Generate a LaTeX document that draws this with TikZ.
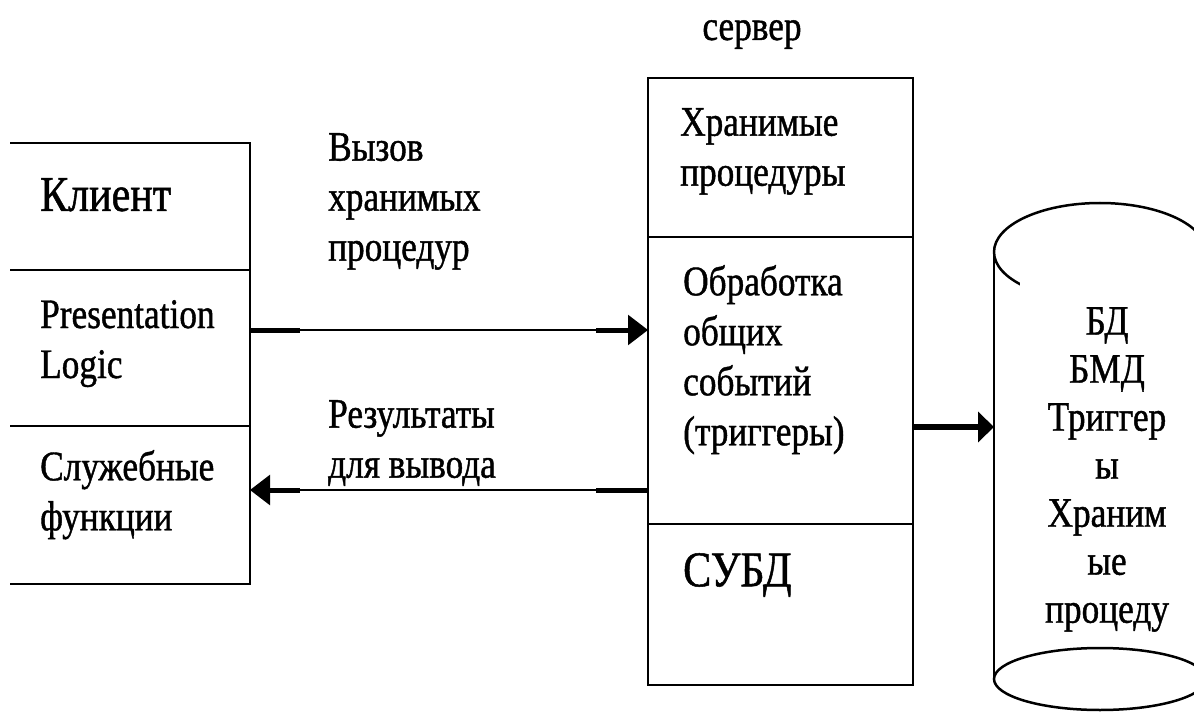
\documentclass[tikz,border=0pt]{standalone}
\usepackage{fontspec}
\setmainfont{Liberation Serif}[FakeStretch=0.84, FakeBold=1]
\usetikzlibrary{arrows.meta}
\tikzset{
  cell/.style    = {rectangle, inner sep=0pt, outer sep=0pt},
  srvcell/.style = {cell, draw=black, line width=2.5pt, minimum width=265pt},
  frame/.style   = {line width=2.5pt, black},
  txt/.style     = {anchor=north west, inner sep=0pt, align=left, font=\fontsize{42}{50}\selectfont},
  bigtxt/.style  = {txt, font=\fontsize{50}{58}\selectfont},
  dbtxt/.style   = {fill=white, inner sep=4pt, text width=166pt, minimum height=400pt, align=center, font=\fontsize{42}{48}\selectfont},
  flow/.style    = {line width=2.5pt, -{Triangle[length=20pt,width=30pt]}},
  stub/.style    = {line width=5pt},
  dbflow/.style  = {line width=6pt, -{Triangle[length=16pt,width=30pt]}},
}
\begin{document}
\begin{tikzpicture}[x=1pt, y=-1pt]
\useasboundingbox (0,0) rectangle (1194,714);
\clip (0,0) rectangle (1194,714);

% клиент
\node[cell, minimum width=240pt, minimum height=127pt] (klient) at (130,206.5) {};
\node[cell, minimum width=240pt, minimum height=156pt] (pres) at (130,348) {};
\node[cell, minimum width=240pt, minimum height=158pt] (serv) at (130,505) {};
\draw[frame] (klient.north west) -- (klient.north east) -- (serv.south east) -- (serv.south west);
\draw[frame] (pres.north west) -- (pres.north east);
\draw[frame] (serv.north west) -- (serv.north east);

\node[bigtxt] (klienttxt) at (40,178) {Клиент};
\node[txt] (prestxt) at (40,300) {Presentation\\Logic};
\node[txt] (servtxt) at (40,450) {Служебные\\функции};

% сервер
\node[txt, anchor=north] (srvtitle) at (752,20) {сервер};
\node[srvcell, minimum height=159pt] (stored) at (780.5,157.5) {};
\node[srvcell, minimum height=287pt] (proc) at (780.5,380.5) {};
\node[srvcell, minimum height=161pt] (dbms) at (780.5,604.5) {};

\node[txt] (storedtxt) at (680,108) {Хранимые\\процедуры};
\node[txt] (proctxt) at (683,265) {Обработка\\общих\\событий\\(триггеры)};
\node[bigtxt] (dbmstxt) at (683,553) {СУБД};

% подписи стрелок
\node[txt] (calltxt) at (328,133) {Вызов\\хранимых\\процедур};
\node[txt] (restxt) at (328,400) {Результаты\\для вывода};

% база данных
\draw[frame] (1100,252) ellipse [x radius=106, y radius=49];
\node[dbtxt] (db) at (1107,469.5) {БД\\БМД\\Триггер\\ы\\Храним\\ые\\процеду};
\draw[frame] (994,252) -- (994,679);
\draw[frame] (1100,679) ellipse [x radius=106, y radius=31];

% стрелки
\coordinate (callrow) at (0,330);
\coordinate (resrow) at (0,490);
\coordinate (dbin) at (994,427);

\draw[flow] (pres.east |- callrow) -- (proc.west |- callrow);
\draw[stub] (pres.east |- callrow) -- ++(50,0);
\draw[stub] ([xshift=-52pt]proc.west |- callrow) -- ++(34,0);

\draw[flow] (proc.west |- resrow) -- (serv.east |- resrow);
\draw[stub] (proc.west |- resrow) -- ++(-52,0);
\draw[stub] ([xshift=18pt]serv.east |- resrow) -- ++(32,0);

\draw[dbflow] (proc.east |- dbin) -- (dbin);

\end{tikzpicture}
\end{document}
